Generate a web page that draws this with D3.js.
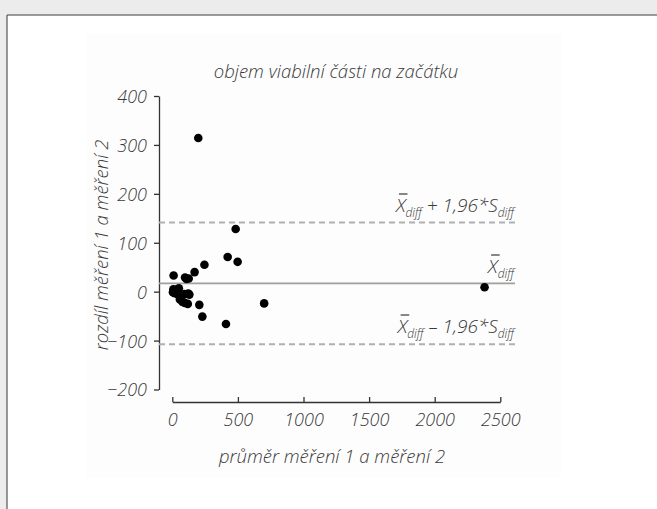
<!DOCTYPE html>
<html><head><meta charset="utf-8">
<script src="https://cdn.jsdelivr.net/npm/d3@7"></script>
<style>
html,body{margin:0;padding:0;background:#fff;}
svg text{font-family:"Open Sans",sans-serif;font-style:italic;font-weight:300;fill:#3a3a3a;}
</style></head>
<body><svg id="c" width="657" height="509"></svg>
<script>
// data: mean of two measurements (x) vs difference (y)
const meanValues = [198, 483, 422, 498, 245, 170, 10, 97, 125, 108, 2380,
  8, 30, 50, 18, 44, 65, 92, 122, 58, 78, 96, 118, 206, 229, 409, 700, 130, 5, 36];
const diffValues = [314, 128, 71, 61, 55, 40, 33, 29, 27, 26, 9,
  5, 4, 7, -3, -6, -11, -5, -4, -16, -21, -23, -25, -27, -51, -66, -24, -6, -1, -2];
const refValues = [141.5, 17, -107.5]; // mean+1.96SD, mean, mean-1.96SD
const xTicks = [0, 500, 1000, 1500, 2000, 2500];
const yTicks = [-200, -100, 0, 100, 200, 300, 400];
const title = "objem viabilní části na začátku";
const xTitle = "průměr měření 1 a měření 2";
const yTitle = "rozdíl měření 1 a měření 2";

const svg = d3.select("#c");
// frame
svg.append("rect").attr("x",0).attr("y",0).attr("width",657).attr("height",509).attr("fill","#ececec");
svg.append("rect").attr("x",7).attr("y",15).attr("width",650).attr("height",494).attr("fill","#fff");
svg.append("rect").attr("x",86).attr("y",33).attr("width",475).attr("height",444).attr("fill","#fdfdfd");
svg.append("line").attr("x1",7).attr("x2",657).attr("y1",15).attr("y2",15).attr("stroke","#7a7a7a").attr("stroke-width",1.5);
svg.append("line").attr("x1",7).attr("x2",7).attr("y1",15).attr("y2",509).attr("stroke","#555").attr("stroke-width",1.2);

const x = d3.scaleLinear().domain([0,2500]).range([172.3,500.3]);
const y = d3.scaleLinear().domain([-200,400]).range([389.5,96]);

// y axis
const ya = svg.append("g").attr("transform","translate(159,0)")
  .call(d3.axisLeft(y).tickValues(yTicks).tickSize(5).tickSizeOuter(0).tickPadding(7)
    .tickFormat(d => d < 0 ? "\u2212" + Math.abs(d) : String(d)));
ya.select(".domain").attr("stroke","#333").attr("stroke-width",1.3);
ya.selectAll(".tick line").attr("stroke","#333").attr("stroke-width",1.3);
ya.selectAll(".tick text").style("font-size","18px").attr("dy","0.36em");

// x axis
const xa = svg.append("g").attr("transform","translate(0,402)")
  .call(d3.axisBottom(x).tickValues(xTicks).tickSize(0).tickSizeOuter(0).tickPadding(11)
    .tickFormat(d => String(d)));
xa.select(".domain").attr("stroke","#333").attr("stroke-width",1.3);
xa.selectAll(".tick line").attr("y2",-5).attr("stroke","#333").attr("stroke-width",1.3);
xa.selectAll(".tick text").style("font-size","18px");

// reference lines
const x0 = 159, x1 = 515;
svg.append("line").attr("x1",x0).attr("x2",x1).attr("y1",y(refValues[1])).attr("y2",y(refValues[1]))
  .attr("stroke","#a0a0a0").attr("stroke-width",1.6);
[refValues[0], refValues[2]].forEach(v => {
  svg.append("line").attr("x1",x0).attr("x2",x1).attr("y1",y(v)).attr("y2",y(v))
    .attr("stroke","#b0b0b0").attr("stroke-width",2).attr("stroke-dasharray","6,4");
});

// points
svg.append("g").selectAll("circle").data(meanValues.map((m,i)=>[m,diffValues[i]])).join("circle")
  .attr("cx",d=>x(d[0])).attr("cy",d=>y(d[1])).attr("r",4.3).attr("fill","#000");

// labels with overline X
function label(yBase, parts){
  const t = svg.append("text").attr("x",514).attr("y",yBase).attr("text-anchor","end").style("font-size","19px");
  parts.forEach(p => {
    const ts = t.append("tspan").text(p.t);
    if (p.sub) ts.style("font-size","12px").attr("dy", p.dy);
    else if (p.dy) ts.attr("dy", p.dy);
  });
  const ext = t.node().getExtentOfChar(0);
  svg.append("line").attr("x1",ext.x+3).attr("x2",ext.x+ext.width+2)
    .attr("y1",ext.y+2).attr("y2",ext.y+2).attr("stroke","#3a3a3a").attr("stroke-width",1.2);
}
label(212, [{t:"X"},{t:"diff",sub:true,dy:5},{t:" + 1,96*S",dy:-5},{t:"diff",sub:true,dy:5}]);
label(273, [{t:"X"},{t:"diff",sub:true,dy:5}]);
label(333, [{t:"X"},{t:"diff",sub:true,dy:5},{t:" \u2013 1,96*S",dy:-5},{t:"diff",sub:true,dy:5}]);

// titles
svg.append("text").attr("x",336).attr("y",78).attr("text-anchor","middle").style("font-size","18.5px").text(title);
svg.append("text").attr("x",332).attr("y",463).attr("text-anchor","middle").style("font-size","18.5px").text(xTitle);
svg.append("text").attr("transform","translate(108,245) rotate(-90)").attr("text-anchor","middle").style("font-size","18.5px").text(yTitle);
</script></body></html>
